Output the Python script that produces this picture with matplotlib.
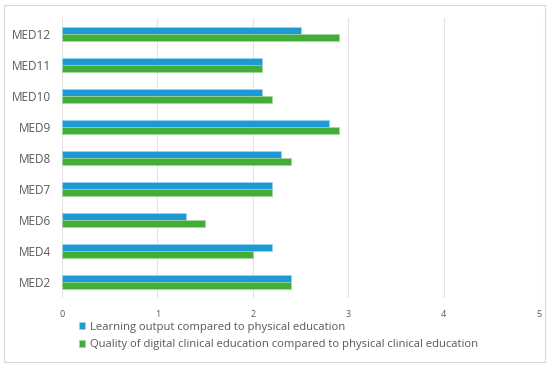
import numpy as np
import matplotlib
matplotlib.use('Agg')
import matplotlib.pyplot as plt
from matplotlib.patches import Rectangle

# data, bottom to top as drawn
categories = ['MED2', 'MED4', 'MED6', 'MED7', 'MED8', 'MED9', 'MED10', 'MED11', 'MED12']
learning_output = [2.4, 2.2, 1.3, 2.2, 2.3, 2.8, 2.1, 2.1, 2.5]
quality_digital = [2.4, 2.0, 1.5, 2.2, 2.4, 2.9, 2.2, 2.1, 2.9]
series_names = ['Learning output compared to physical education',
                'Quality of digital clinical education compared to physical clinical education']

blue = '#1D9AD6'
green = '#43AE37'
text_col = '#595959'

plt.rcParams['font.family'] = ['Open Sans', 'DejaVu Sans']

fig = plt.figure(figsize=(5.5, 3.67), dpi=100)
ax = fig.add_axes([62 / 550, 1 - 297.5 / 367, (539 - 62) / 550, (297.5 - 18) / 367])

# light border round the whole chart
fig.patches.append(Rectangle((4 / 550, 5 / 367), 541 / 550, 357 / 367, transform=fig.transFigure,
                             fill=False, edgecolor='#D9D9D9', linewidth=0.8))

y = np.arange(len(categories))
h = 0.225
ax.barh(y + h / 2, learning_output, h, color=blue, edgecolor='#9FD4EE', linewidth=0.4,
        label=series_names[0], zorder=3)
ax.barh(y - h / 2, quality_digital, h, color=green, edgecolor='#A6DA9F', linewidth=0.4,
        label=series_names[1], zorder=3)

ax.set_xlim(0, 5)
ax.set_ylim(-0.5, len(categories) - 0.5)
ax.set_xticks(range(6))
ax.set_yticks(y)
ax.set_yticklabels(categories)
ax.tick_params(axis='y', length=0, labelsize=8.5, colors=text_col, pad=8)
ax.tick_params(axis='x', length=0, labelsize=6.5, colors=text_col, pad=9)
ax.grid(axis='x', color='#E3E3E3', linewidth=0.8, zorder=0)
for s in ax.spines.values():
    s.set_visible(False)

handles, labels = ax.get_legend_handles_labels()
fig.legend(handles, labels, loc='upper left', bbox_to_anchor=(73 / 550, 1 - 316 / 367),
           frameon=False, fontsize=8.1, labelcolor=text_col, handlelength=0.6, handleheight=0.6,
           handletextpad=0.4, labelspacing=0.6, borderpad=0)

fig.savefig('out.png', dpi=100)
